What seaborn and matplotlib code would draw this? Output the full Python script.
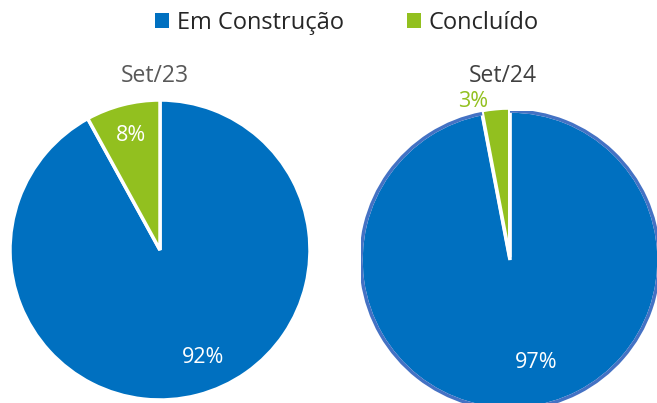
import numpy as np
import matplotlib
matplotlib.use("Agg")
import matplotlib.pyplot as plt
from matplotlib.patches import Patch, Arc
import seaborn as sns

categories = ["Em Construção", "Concluído"]
periods = ["Set/23", "Set/24"]
share_23 = [92, 8]
share_24 = [97, 3]

sns.set_theme(style="white")
plt.rcParams['font.family'] = ['Open Sans', 'DejaVu Sans']

colors = ["#0070C0", "#92C01F"]

fig = plt.figure(figsize=(6.57, 4.03), dpi=100)
W, H = 657, 403

def pie_axes(cx, cy, r):
    # pixel centre/radius -> figure axes
    return fig.add_axes([(cx - r) / W, (H - cy - r) / H, 2 * r / W, 2 * r / H])

def place(txt, wedge, dist, turn=0):
    # move a pct label along the wedge's bisector (degrees turned, radius fraction)
    a = np.deg2rad((wedge.theta1 + wedge.theta2) / 2 + turn)
    cx, cy = wedge.center
    txt.set_position((cx + dist * np.cos(a), cy + dist * np.sin(a)))

# Set/23
ax1 = pie_axes(160, 250, 150)
w1, t1, a1 = ax1.pie(share_23, colors=colors, startangle=90, counterclock=False,
                     autopct='%1.0f%%', radius=1,
                     wedgeprops=dict(edgecolor="white", linewidth=2.5),
                     textprops=dict(color="white", fontsize=15.5))
place(a1[0], w1[0], 0.77, 7.5)
place(a1[1], w1[1], 0.79)
ax1.set_xlim(-1, 1); ax1.set_ylim(-1, 1)
ax1.set_aspect('equal')
ax1.axis('off')
fig.text(155 / W, 1 - 76 / H, periods[0], ha='center', va='center', fontsize=16.5, color="#595959")

# Set/24
ax2 = pie_axes(510, 260, 149)
w2, t2, a2 = ax2.pie(share_24, colors=colors, startangle=90, counterclock=False,
                     autopct='%1.0f%%', radius=1, explode=[0, 0.02],
                     wedgeprops=dict(edgecolor="white", linewidth=2.5),
                     textprops=dict(color="white", fontsize=15.5))
ax2.set_xlim(-1, 1); ax2.set_ylim(-1, 1)
ax2.set_aspect('equal')
ax2.axis('off')
# blue outline on the big slice only
th = w2[0]
ax2.add_patch(Arc((0, 0), 2, 2, theta1=th.theta1, theta2=th.theta2,
                  color="#4472C4", linewidth=2.5))
place(a2[0], w2[0], 0.71, 9)
# small slice label sits outside, in green
place(a2[1], w2[1], 1.07, 8)
a2[1].set_color(colors[1])
fig.text(503 / W, 1 - 76 / H, periods[1], ha='center', va='center', fontsize=16.5,
         color="#404040")

handles = [Patch(facecolor=c, edgecolor='none') for c in colors]
fig.legend(handles, categories, loc='center', bbox_to_anchor=(347 / W, 1 - 23 / H), ncol=2,
           frameon=False, fontsize=17, handlelength=0.6, handleheight=0.6,
           handletextpad=0.3, columnspacing=2.7, labelcolor="#262626",
           borderpad=0, borderaxespad=0)

fig.savefig("out.png", dpi=100)
